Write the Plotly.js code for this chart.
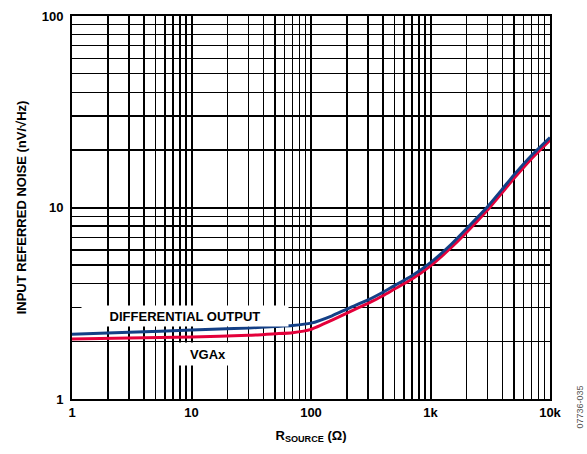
<!DOCTYPE html>
<html><head><meta charset="utf-8">
<script src="https://cdn.plot.ly/plotly-3.0.1.min.js"></script>
<style>body{margin:0;padding:0;background:#fff}#c{width:587px;height:454px}</style>
</head><body><div id="c"></div>
<script>
const rSource = [1, 3, 10, 30, 50, 70, 100, 150, 200, 300, 400, 500, 700, 1000, 1500, 2000, 3000, 4000, 5000, 7000, 10000];
const diffOutput = [2.18, 2.23, 2.29, 2.35, 2.39, 2.42, 2.49, 2.72, 2.95, 3.29, 3.61, 3.91, 4.4, 5.15, 6.45, 7.75, 10.1, 12.5, 14.8, 18.7, 23.2];
const vgax = [2.06, 2.08, 2.11, 2.15, 2.19, 2.22, 2.31, 2.58, 2.81, 3.16, 3.46, 3.75, 4.23, 4.96, 6.2, 7.4, 9.7, 12.0, 14.2, 18.0, 22.5];
const xMajor = [1, 10, 100, 1000, 10000];
const xMajorText = ['<b>1</b>', '<b>10</b>', '<b>100</b>', '<b>1k</b>', '<b>10k</b>'];
const yMajor = [1, 10, 100];
const yMajorText = ['<b>1</b>', '<b>10</b>', '<b>100</b>'];
const mults = [2,3,4,5,6,7,8,9];
const xMinor = [1,10,100,1000].flatMap(d => mults.map(m => m*d));
const yMinor = [1,10].flatMap(d => mults.map(m => m*d));
const FF = 'Liberation Sans, Arial, sans-serif';
const tickFont = {family:FF, size:13, color:'#000'};
const traces = [
  {x:rSource, y:vgax, mode:'lines', line:{color:'#e4003a', width:3, shape:'spline', smoothing:0.5}, name:'VGAx'},
  {x:rSource, y:diffOutput, mode:'lines', line:{color:'#133f86', width:3, shape:'spline', smoothing:0.5}, name:'DIFFERENTIAL OUTPUT'}
];
const layout = {
  width:587, height:454,
  margin:{l:72, r:37, t:16, b:55},
  paper_bgcolor:'#fff', plot_bgcolor:'#fff',
  showlegend:false,
  xaxis:{type:'log', range:[0,4], tickmode:'array', tickvals:xMajor, ticktext:xMajorText,
    showgrid:true, gridcolor:'#000', gridwidth:2, ticks:'', tickfont:tickFont,
    showline:true, linecolor:'#000', linewidth:2, mirror:true, zeroline:false,
    minor:{tickmode:'array', tickvals:xMinor, showgrid:true, gridcolor:'#000', gridwidth:1.3, ticks:''},
    title:{text:'<b>R<sub>SOURCE</sub> (Ω)</b>', font:{family:FF, size:13, color:'#000'}, standoff:12}},
  yaxis:{type:'log', range:[0,2], tickmode:'array', tickvals:yMajor, ticktext:yMajorText,
    showgrid:true, gridcolor:'#000', gridwidth:2, ticks:'', tickfont:tickFont, ticklabelstandoff:4,
    showline:true, linecolor:'#000', linewidth:2, mirror:true, zeroline:false,
    minor:{tickmode:'array', tickvals:yMinor, showgrid:true, gridcolor:'#000', gridwidth:1.3, ticks:''},
    title:{text:'<b>INPUT REFERRED NOISE (nV/√Hz)</b>', font:{family:FF, size:13, color:'#000'}, standoff:12}},
  annotations:[
    {x:Math.log10(8.8), y:Math.log10(2.71), xref:'x', yref:'y', text:'<b>DIFFERENTIAL OUTPUT</b>', showarrow:false,
     bgcolor:'#fff', width:204, height:18, font:{family:FF, size:13, color:'#000'}},
    {x:Math.log10(13.7), y:Math.log10(1.72), xref:'x', yref:'y', text:'<b>VGAx</b>', showarrow:false,
     bgcolor:'#fff', width:56, height:20, font:{family:FF, size:13, color:'#000'}},
    {x:1, y:0, xref:'paper', yref:'paper', xanchor:'left', yanchor:'bottom', xshift:22, yshift:-32, textangle:-90,
     text:'07736-035', showarrow:false, font:{family:FF, size:9, color:'#555'}}
  ]
};
Plotly.newPlot('c', traces, layout, {displayModeBar:false, staticPlot:true});
</script></body></html>
